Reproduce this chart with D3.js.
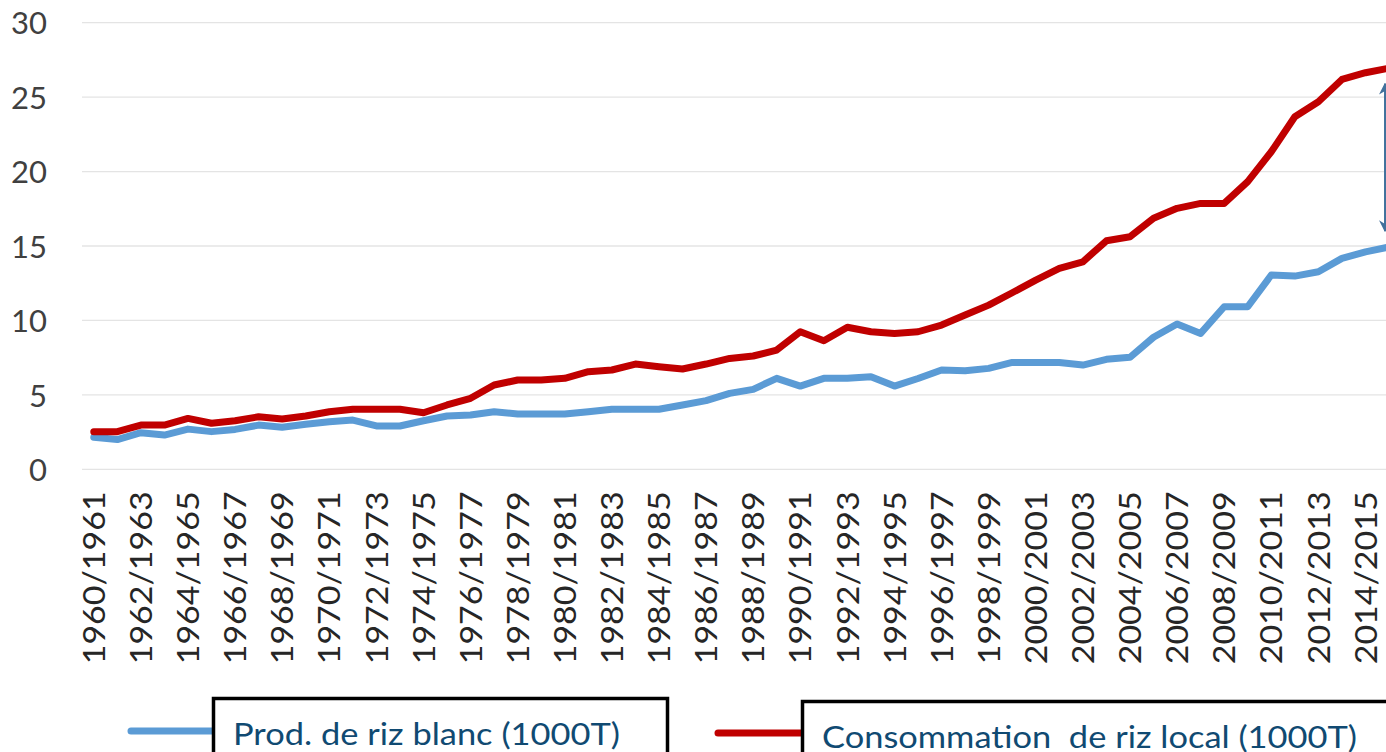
<!DOCTYPE html>
<html>
<head>
<meta charset="utf-8">
<script src="https://cdn.jsdelivr.net/npm/d3@7"></script>
<style>
  html, body { margin: 0; padding: 0; background: #fff; overflow: hidden; }
  svg { display: block; font-family: Lato, "Open Sans", sans-serif; }
</style>
</head>
<body>
<div id="chart"></div>
<script>
// campaigns 1960/1961 .. 2015/2016
const seasons = [
  "1960/1961","1961/1962","1962/1963","1963/1964","1964/1965","1965/1966","1966/1967","1967/1968",
  "1968/1969","1969/1970","1970/1971","1971/1972","1972/1973","1973/1974","1974/1975","1975/1976",
  "1976/1977","1977/1978","1978/1979","1979/1980","1980/1981","1981/1982","1982/1983","1983/1984",
  "1984/1985","1985/1986","1986/1987","1987/1988","1988/1989","1989/1990","1990/1991","1991/1992",
  "1992/1993","1993/1994","1994/1995","1995/1996","1996/1997","1997/1998","1998/1999","1999/2000",
  "2000/2001","2001/2002","2002/2003","2003/2004","2004/2005","2005/2006","2006/2007","2007/2008",
  "2008/2009","2009/2010","2010/2011","2011/2012","2012/2013","2013/2014","2014/2015","2015/2016"
]

// Prod. de riz blanc (1000T)
const prodRiz = [
  2.15, 2.0, 2.46, 2.3, 2.7, 2.53, 2.68, 2.97, 2.82, 3.02, 3.2, 3.31, 2.91, 2.91, 3.26, 3.58,
  3.65, 3.87, 3.71, 3.71, 3.71, 3.87, 4.03, 4.03, 4.03, 4.32, 4.61, 5.1, 5.37, 6.11, 5.59, 6.11,
  6.11, 6.22, 5.59, 6.1, 6.67, 6.62, 6.78, 7.18, 7.18, 7.18, 7.0, 7.39, 7.52, 8.87, 9.76, 9.13,
  10.92, 10.92, 13.05, 12.98, 13.27, 14.17, 14.61, 14.93
]

// Consommation de riz local (1000T)
const consoRiz = [
  2.53, 2.53, 2.97, 2.97, 3.42, 3.09, 3.26, 3.53, 3.38, 3.58, 3.87, 4.03, 4.03, 4.03, 3.8, 4.32,
  4.77, 5.66, 6.0, 6.0, 6.11, 6.56, 6.67, 7.07, 6.89, 6.74, 7.07, 7.45, 7.61, 8.01, 9.24, 8.64,
  9.54, 9.24, 9.13, 9.24, 9.69, 10.36, 11.03, 11.86, 12.71, 13.5, 13.94, 15.35, 15.62, 16.86, 17.53, 17.86,
  17.86, 19.32, 21.33, 23.68, 24.69, 26.19, 26.64, 26.95
]

const yTicks = [0, 5, 10, 15, 20, 25, 30]
const seriesNames = ["Prod. de riz blanc (1000T)", "Consommation  de riz local (1000T)"]
const seriesColors = ["#5B9BD5", "#C00000"]

// gap arrow at the end of the chart (in value units)
const gapArrow = [16.0, 25.9]

const W = 1386, H = 752

const svg = d3.select('#chart').append('svg')
    .attr('width', W)
    .attr('height', H)

const xScale = d3.scaleBand()
    .domain(seasons)
    .range([82, 82 + seasons.length * 23.55])

const yScale = d3.scaleLinear()
    .domain([0, 30])
    .range([469.3, 22.7])

const xPos = d => xScale(d) + xScale.bandwidth() / 2

// gridlines
svg.append('g')
    .selectAll('line')
    .data(yTicks)
    .join('line')
    .attr('x1', 82)
    .attr('x2', W)
    .attr('y1', d => yScale(d))
    .attr('y2', d => yScale(d))
    .attr('stroke', '#E4E4E4')
    .attr('stroke-width', 1.3)

// y axis
const yAxis = svg.append('g')
    .attr('transform', 'translate(47,0)')
    .call(d3.axisLeft(yScale).tickValues(yTicks).tickSize(0).tickPadding(0))
yAxis.select('.domain').remove()
yAxis.selectAll('text')
    .attr('font-family', 'Lato, sans-serif')
    .attr('font-size', 31)
    .attr('fill', '#404040')
    .attr('dy', '0.36em')

// x axis labels (every other season)
const xAxis = svg.append('g')
    .attr('transform', 'translate(0,' + yScale(0) + ')')
    .call(d3.axisBottom(xScale)
        .tickValues(seasons.filter((d, i) => i % 2 === 0))
        .tickSize(0))
xAxis.select('.domain').remove()
xAxis.selectAll('text')
    .attr('font-family', 'Lato, sans-serif')
    .attr('font-size', 31)
    .attr('fill', '#262626')
    .attr('text-anchor', 'end')
    .attr('transform', 'rotate(-90)')
    .attr('x', -22)
    .attr('y', 0)
    .attr('dy', '0.36em')
    .attr('textLength', 173)
    .attr('lengthAdjust', 'spacingAndGlyphs')

// lines
const lineGen = d3.line()
    .x((d, i) => xPos(seasons[i]))
    .y(d => yScale(d))

;[prodRiz, consoRiz].forEach((values, k) => {
    svg.append('path')
        .attr('d', lineGen(values))
        .attr('fill', 'none')
        .attr('stroke', seriesColors[k])
        .attr('stroke-width', 7)
        .attr('stroke-linejoin', 'round')
        .attr('stroke-linecap', 'round')
})

// double arrow
const defs = svg.append('defs')
defs.append('marker')
    .attr('id', 'arr')
    .attr('viewBox', '0 0 10 10')
    .attr('refX', 9)
    .attr('refY', 5)
    .attr('markerWidth', 6)
    .attr('markerHeight', 6)
    .attr('orient', 'auto-start-reverse')
    .append('path')
    .attr('d', 'M0,0 L10,5 L0,10 L3,5 z')
    .attr('fill', '#41719C')

const arrowX = xPos(seasons[seasons.length - 1]) - 4
svg.append('line')
    .attr('x1', arrowX)
    .attr('x2', arrowX)
    .attr('y1', yScale(gapArrow[1]))
    .attr('y2', yScale(gapArrow[0]))
    .attr('stroke', '#41719C')
    .attr('stroke-width', 2)
    .attr('marker-start', 'url(#arr)')
    .attr('marker-end', 'url(#arr)')

// legend
const legendItems = [
    { sx1: 131, sx2: 212, sy: 731, bx: 213.5, by: 698.5, bw: 454, tx: 233, tw: 387 },
    { sx1: 718, sx2: 801, sy: 733, bx: 802.5, by: 701.5, bw: 600, tx: 822, tw: 535 }
]
legendItems.forEach((it, k) => {
    svg.append('line')
        .attr('x1', it.sx1).attr('x2', it.sx2)
        .attr('y1', it.sy).attr('y2', it.sy)
        .attr('stroke', seriesColors[k])
        .attr('stroke-width', 7)
        .attr('stroke-linecap', 'round')
    svg.append('rect')
        .attr('x', it.bx).attr('y', it.by)
        .attr('width', it.bw).attr('height', 80)
        .attr('fill', 'white')
        .attr('stroke', '#000')
        .attr('stroke-width', 3.5)
    svg.append('text')
        .attr('x', it.tx)
        .attr('y', it.by + 46)
        .attr('font-family', 'Lato, sans-serif')
        .attr('font-size', 30)
        .attr('fill', '#104A72')
        .attr('textLength', it.tw)
        .attr('lengthAdjust', 'spacingAndGlyphs')
        .attr('xml:space', 'preserve')
        .text(seriesNames[k])
})
</script>
</body>
</html>
